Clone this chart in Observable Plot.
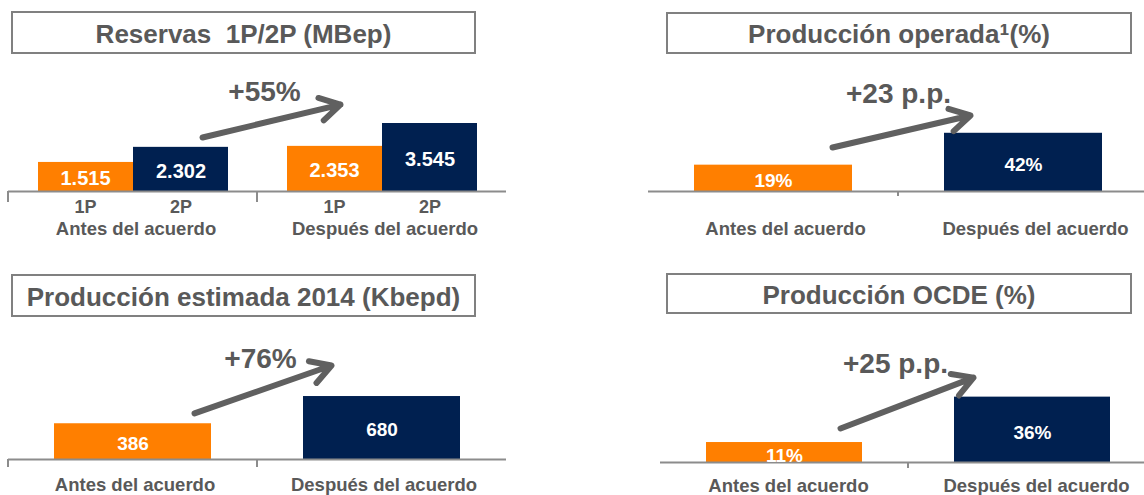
<!DOCTYPE html>
<html>
<head>
<meta charset="utf-8">
<script src="https://cdn.jsdelivr.net/npm/d3@7"></script>
<script src="https://cdn.jsdelivr.net/npm/@observablehq/plot@0.6"></script>
<style>
html, body { margin: 0; padding: 0; background: #fff; overflow: hidden; }
#lienzo { position: relative; width: 1144px; height: 495px; font-family: "Liberation Sans", Arial, sans-serif; }
.titulo { position: absolute; box-sizing: border-box; border: 2px solid #808080; color: #595959; font-weight: bold; font-size: 26px; display: flex; align-items: center; justify-content: center; padding-top: 3px; white-space: pre; background: #fff; }
.panel { position: absolute; }
</style>
</head>
<body>
<div id="lienzo"></div>
<script>
// ---- Datos ----
const periodos = ["Antes del acuerdo", "Después del acuerdo"];
const reservasTipos = ["1P", "2P"];
const reservasAntes = [1515, 2302];
const reservasDespues = [2353, 3545];
const produccionOperada = [19, 42];
const produccionEstimada = [386, 680];
const produccionOCDE = [11, 36];
const titulos = ["Reservas  1P/2P (MBep)", "Producción operada\u00B9(%)", "Producción estimada 2014 (Kbepd)", "Producción OCDE (%)"];
const variaciones = ["+55%", "+23 p.p.", "+76%", "+25 p.p."];

// ---- Estilos ----
const NARANJA = "#ff7f00", AZUL = "#002050", GRIS = "#595959", EJE = "#8c8c8c", FLECHA = "#606060";
const FUENTE = '"Liberation Sans", Arial, sans-serif';
const estilo = {background: "transparent", maxWidth: "none", overflow: "visible", fontFamily: FUENTE};
const es = d3.formatLocale({decimal: ",", thousands: ".", grouping: [3], currency: ["", " €"]});
const miles = es.format(",");
const pct = v => `${v}%`;
const lienzo = document.getElementById("lienzo");

function colocar(el, left, top) {
  const d = document.createElement("div");
  d.className = "panel";
  d.style.left = left + "px";
  d.style.top = top + "px";
  d.append(el);
  lienzo.append(d);
}
function titulo(texto, left, top, w, h) {
  const d = document.createElement("div");
  d.className = "titulo";
  Object.assign(d.style, {left: left + "px", top: top + "px", width: w + "px", height: h + "px"});
  const partes = texto.split("\u00B9");
  partes.forEach((p, i) => {
    if (i > 0) {
      const s = document.createElement("span");
      s.textContent = "\u00B9";
      s.style.fontSize = "30px";
      s.style.lineHeight = "0";
      d.append(s);
    }
    d.append(document.createTextNode(p));
  });
  lienzo.append(d);
}
// marcas de eje en el inicio de cada banda
function marcas(cats, largo) {
  return (index, scales) => {
    const g = d3.create("svg:g").attr("stroke", EJE).attr("stroke-width", 2);
    const y0 = scales.y(0);
    for (const c of cats) {
      const x = scales.x(c);
      g.append("line").attr("x1", x).attr("x2", x).attr("y1", y0).attr("y2", y0 + largo);
    }
    return g.node();
  };
}
function flecha(y1, y2, insetStart, insetEnd) {
  return Plot.arrow([periodos], {
    x1: d => d[0], x2: d => d[1], y1: () => y1, y2: () => y2,
    stroke: FLECHA, strokeWidth: 6, headLength: 5.75, headAngle: 60, insetStart, insetEnd
  });
}
function nota(texto, dx, dy) {
  return Plot.text([texto], {frameAnchor: "top", lineAnchor: "middle", text: d => d, dx, dy,
    fill: GRIS, fontSize: 28, fontWeight: "bold"});
}
function etiquetasPeriodo(dy, dx = 0) {
  return Plot.text(periodos, {x: d => d, text: d => d, frameAnchor: "bottom", lineAnchor: "middle", dx, dy,
    fill: GRIS, fontSize: 18.5, fontWeight: "bold"});
}

// ---- Títulos ----
titulo(titulos[0], 11, 11, 465, 43);
titulo(titulos[1], 666, 12, 466, 42);
titulo(titulos[2], 11, 274, 465, 43);
titulo(titulos[3], 666, 273, 466, 41);

// ---- Panel 1: Reservas ----
const reservas = reservasTipos.flatMap((tipo, i) => [
  {periodo: periodos[0], tipo, valor: reservasAntes[i]},
  {periodo: periodos[1], tipo, valor: reservasDespues[i]}
]);
const r1 = reservas.filter(d => d.tipo === reservasTipos[0]);
const r2 = reservas.filter(d => d.tipo === reservasTipos[1]);
colocar(Plot.plot({
  width: 510, height: 185, marginTop: 0, marginLeft: 8, marginRight: 4, marginBottom: 54,
  x: {domain: periodos, padding: 0, axis: null},
  y: {domain: [0, 6830], axis: null},
  color: {domain: reservasTipos, range: [NARANJA, AZUL]},
  style: estilo,
  marks: [
    Plot.barY(r1, {x: "periodo", y: "valor", fill: "tipo", insetLeft: 30, insetRight: 124}),
    Plot.barY(r2, {x: "periodo", y: "valor", fill: "tipo", insetLeft: 125, insetRight: 29}),
    Plot.ruleY([0], {stroke: EJE, strokeWidth: 2}),
    marcas(periodos, 11),
    Plot.text(r1, {x: "periodo", y: d => d.valor / 2, text: d => miles(d.valor), dx: -47.5, dy: 2, fill: "white", fontSize: 20, fontWeight: "bold"}),
    Plot.text(r2, {x: "periodo", y: d => d.valor / 2, text: d => miles(d.valor), dx: 48, dy: 2, fill: "white", fontSize: 20, fontWeight: "bold"}),
    Plot.text(r1, {x: "periodo", text: "tipo", frameAnchor: "bottom", lineAnchor: "middle", dx: -47.5, dy: 16, fill: GRIS, fontSize: 18, fontWeight: "bold"}),
    Plot.text(r2, {x: "periodo", text: "tipo", frameAnchor: "bottom", lineAnchor: "middle", dx: 48, dy: 16, fill: GRIS, fontSize: 18, fontWeight: "bold"}),
    etiquetasPeriodo(37.5, 3),
    flecha(1950, 5050, 71.5, 42.7),
    nota(variaciones[0], 7, 32)
  ]
}), 0, 60);

// ---- Panel genérico de dos barras ----
function panelSimple({valores, fmt, width, height, marginLeft, marginRight, marginBottom, yMax, tick, labelDy, catDy, catDx, arrow, notaDx, notaDy, texto, ticksCats}) {
  const datos = periodos.map((p, i) => ({periodo: p, valor: valores[i]}));
  return Plot.plot({
    width, height, marginTop: 0, marginLeft, marginRight, marginBottom,
    x: {domain: periodos, padding: 0, axis: null},
    y: {domain: [0, yMax], axis: null},
    color: {domain: periodos, range: [NARANJA, AZUL]},
    style: estilo,
    marks: [
      Plot.barY(datos, {x: "periodo", y: "valor", fill: "periodo", insetLeft: 46, insetRight: 46}),
      Plot.ruleY([0], {stroke: EJE, strokeWidth: 2}),
      marcas(ticksCats, tick),
      Plot.text(datos, {x: "periodo", y: d => d.valor / 2, text: d => fmt(d.valor), dy: labelDy, fill: "white", fontSize: 19, fontWeight: "bold"}),
      etiquetasPeriodo(catDy, catDx),
      flecha(...arrow),
      nota(texto, notaDx, notaDy)
    ]
  });
}

// ---- Panel 2: Producción operada ----
colocar(panelSimple({
  valores: produccionOperada, fmt: pct, width: 510, height: 185, marginLeft: 8, marginRight: 2, marginBottom: 54,
  yMax: 94.5, tick: 5, labelDy: 3, catDy: 38, catDx: 12, arrow: [21.9, 63.7, 60.6, 54.4],
  notaDx: 0, notaDy: 34, texto: variaciones[1], ticksCats: [periodos[1]]
}), 640, 60);

// ---- Panel 3: Producción estimada ----
colocar(panelSimple({
  valores: produccionEstimada, fmt: String, width: 510, height: 175, marginLeft: 8, marginRight: 4, marginBottom: 36,
  yMax: 1501, tick: 8, labelDy: 2, catDy: 26, catDx: 2, arrow: [264.6, 1206, 65.2, 53.5],
  notaDx: 3, notaDy: 39, texto: variaciones[2], ticksCats: periodos
}), 0, 320);

// ---- Panel 4: Producción OCDE ----
colocar(panelSimple({
  valores: produccionOCDE, fmt: pct, width: 520, height: 175, marginLeft: 20, marginRight: 4, marginBottom: 33,
  yMax: 78.2, tick: 6, labelDy: 3, catDy: 24, catDx: 4, arrow: [6.9, 59.2, 60, 63.2],
  notaDx: -13, notaDy: 44, texto: variaciones[3], ticksCats: [periodos[1]]
}), 640, 320);
</script>
</body>
</html>
